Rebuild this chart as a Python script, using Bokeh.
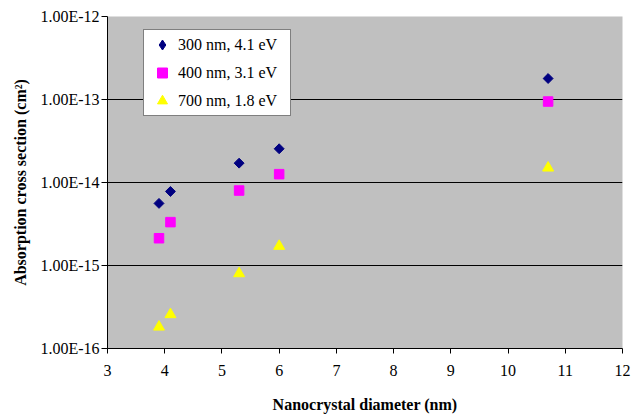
import math
from bokeh.plotting import figure
from bokeh.models import FixedTicker, CustomJSTickFormatter, Legend, LegendItem
from bokeh.embed import file_html
from bokeh.resources import INLINE

# ---- data ----
diameters = [3.9, 4.1, 5.3, 6.0, 10.7]
cs_300nm = [5.6e-15, 7.8e-15, 1.71e-14, 2.55e-14, 1.79e-13]
cs_400nm = [2.13e-15, 3.33e-15, 8.0e-15, 1.26e-14, 9.45e-14]
cs_700nm = [1.82e-16, 2.57e-16, 8.0e-16, 1.71e-15, 1.5e-14]
series_labels = ["300 nm, 4.1 eV", "400 nm, 3.1 eV", "700 nm, 1.8 eV"]
x_ticks = [3, 4, 5, 6, 7, 8, 9, 10, 11, 12]
y_ticks = [1e-16, 1e-15, 1e-14, 1e-13, 1e-12]

FONT = "Liberation Serif"

p = figure(width=631, height=415, x_range=(3, 12), y_range=(1e-16, 1e-12),
           y_axis_type="log", output_backend="svg", toolbar_location=None,
           min_border_left=107, min_border_right=9, min_border_top=16,
           min_border_bottom=67)
p.background_fill_color = "#C0C0C0"
p.border_fill_color = "white"
p.outline_line_color = None

# grids
p.xgrid.grid_line_color = None
p.ygrid.grid_line_color = "black"
p.ygrid.grid_line_width = 1
p.ygrid.ticker = FixedTicker(ticks=y_ticks)

# x axis
xa = p.xaxis[0]
xa.ticker = FixedTicker(ticks=x_ticks, minor_ticks=[])
xa.axis_line_color = "black"
xa.major_tick_line_color = "black"
xa.major_tick_out = 5
xa.major_tick_in = 0
xa.minor_tick_line_color = None
xa.major_label_text_font = FONT
xa.major_label_text_font_size = "16px"
xa.major_label_text_color = "black"
xa.major_label_standoff = 11
xa.axis_label = "Nanocrystal diameter (nm)"
xa.axis_label_text_font = FONT
xa.axis_label_text_font_size = "16px"
xa.axis_label_text_font_style = "bold"
xa.axis_label_text_color = "black"
xa.axis_label_standoff = 17

# y axis
ya = p.yaxis[0]
ya.ticker = FixedTicker(ticks=y_ticks, minor_ticks=[])
ya.formatter = CustomJSTickFormatter(code="return tick.toExponential(2).toUpperCase();")
ya.axis_line_color = "black"
ya.major_tick_line_color = "black"
ya.major_tick_out = 6
ya.major_tick_in = 0
ya.minor_tick_line_color = None
ya.major_label_text_font = FONT
ya.major_label_text_font_size = "16px"
ya.major_label_text_color = "black"
ya.major_label_standoff = 2
ya.axis_label = "Absorption cross section (cm\u00b2)"
ya.axis_label_text_font = FONT
ya.axis_label_text_font_size = "16px"
ya.axis_label_text_font_style = "bold"
ya.axis_label_text_color = "black"
ya.axis_label_standoff = 8

# data markers
r300 = p.scatter(diameters, cs_300nm, marker="square", angle=math.pi / 4, size=7,
                 fill_color="#000080", line_color="#000080")
r400 = p.scatter(diameters, cs_400nm, marker="square", size=9.5,
                 fill_color="#FF00FF", line_color="#FF00FF")
r700 = p.scatter(diameters, cs_700nm, marker="triangle", size=11,
                 fill_color="#FFFF00", line_color="#FFFF00")

# legend-only renderer for the diamond symbol (zero size in the plot)
r300_leg = p.scatter(diameters, cs_300nm, marker="diamond", size=0,
                     fill_color="#000080", line_color="#000080")

legend = Legend(items=[LegendItem(label=series_labels[0], renderers=[r300_leg]),
                       LegendItem(label=series_labels[1], renderers=[r400]),
                       LegendItem(label=series_labels[2], renderers=[r700])],
                location=(36, 232), orientation="vertical",
                padding=2, spacing=3, margin=0,
                glyph_width=32, glyph_height=25, label_height=25,
                label_width=110, label_standoff=0,
                label_text_font=FONT, label_text_font_size="16px",
                label_text_color="black",
                border_line_color="black", border_line_width=1,
                background_fill_color="white", background_fill_alpha=1.0)
p.add_layout(legend, "center")

open("out.html", "w").write(file_html(p, INLINE))
